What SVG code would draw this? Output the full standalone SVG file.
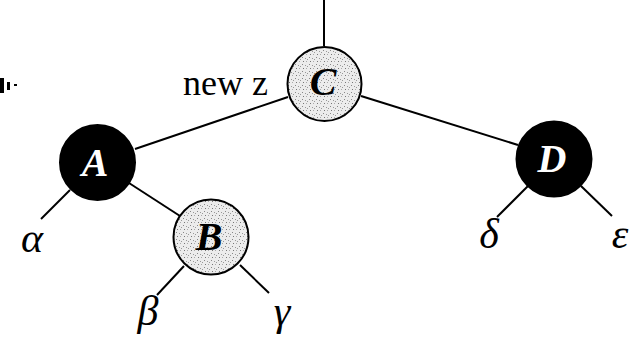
<svg xmlns="http://www.w3.org/2000/svg" width="640" height="338" viewBox="0 0 640 338">
<defs>
<pattern id="stip" width="7" height="7" patternUnits="userSpaceOnUse">
<rect width="7" height="7" fill="#ececec"/>
<rect x="1" y="1" width="1" height="1" fill="#888"/>
<rect x="4" y="2" width="1" height="1" fill="#999"/>
<rect x="2" y="5" width="1" height="1" fill="#777"/>
<rect x="5" y="5" width="1" height="1" fill="#aaa"/>
<rect x="6" y="3" width="1" height="1" fill="#999"/>
</pattern>
</defs>
<style>
.edge{stroke:#000;stroke-width:2;fill:none}
.red{fill:url(#stip);stroke:#000;stroke-width:2}
.black{fill:#000;stroke:#000;stroke-width:2}
.lbl{font-family:"Liberation Serif",serif;font-style:italic;font-weight:bold;font-size:40px;text-anchor:middle}
.greek{font-family:"Liberation Serif",serif;font-style:italic;font-size:42px;text-anchor:middle;fill:#000}
.note{font-family:"Liberation Serif",serif;font-size:36px;fill:#000}
</style>
<rect width="640" height="338" fill="#fff"/>
<g id="fragment">
<rect x="0" y="78" width="4" height="15" fill="#000"/>
<rect x="7" y="82" width="3" height="8" fill="#000"/>
<rect x="14" y="84" width="3" height="2" fill="#000"/>
</g>
<g id="connectors">
<line class="edge" x1="324" y1="0" x2="324" y2="46"/>
<line class="edge" x1="288" y1="97" x2="135" y2="149"/>
<line class="edge" x1="361" y1="96" x2="518" y2="145"/>
<line class="edge" x1="70" y1="190" x2="41" y2="219"/>
<line class="edge" x1="129" y1="183" x2="180" y2="216"/>
<line class="edge" x1="184" y1="266" x2="157" y2="295"/>
<line class="edge" x1="240" y1="265" x2="269" y2="293"/>
<line class="edge" x1="528" y1="186" x2="497" y2="217"/>
<line class="edge" x1="581" y1="186" x2="612" y2="216"/>
</g>
<g id="node-C">
<circle class="red" cx="324.5" cy="84" r="37"/>
<text class="lbl" x="323" y="95" fill="#000">C</text>
<text class="note" x="183" y="95">new z</text>
</g>
<g id="node-A">
<circle class="black" cx="97.5" cy="162.5" r="37.5"/>
<text class="lbl" x="95" y="176" fill="#fff">A</text>
</g>
<g id="node-B">
<circle class="red" cx="211" cy="237" r="37.5"/>
<text class="lbl" x="209" y="250" fill="#000">B</text>
</g>
<g id="node-D">
<circle class="black" cx="554" cy="159" r="37.5"/>
<text class="lbl" x="552" y="172" fill="#fff">D</text>
</g>
<g id="leaves">
<text class="greek" x="32" y="252">α</text>
<text class="greek" x="148" y="325">β</text>
<text class="greek" x="282" y="325">γ</text>
<text class="greek" x="489" y="248">δ</text>
<text class="greek" x="620" y="248">ε</text>
</g>
</svg>
